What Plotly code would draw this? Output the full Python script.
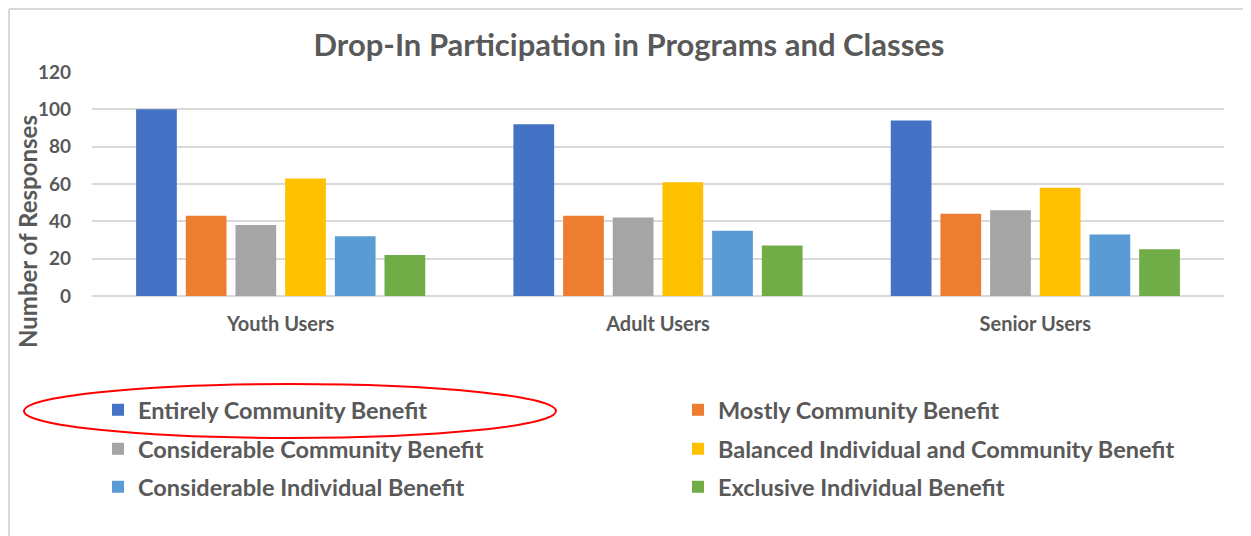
"""Drop-in participation chart, grouped bars by user type."""

import plotly.graph_objects as go


USER_GROUPS = ["Youth Users", "Adult Users", "Senior Users"]

BENEFIT_LEVELS = [
    "Entirely Community Benefit",
    "Mostly Community Benefit",
    "Considerable Community Benefit",
    "Balanced Individual and Community Benefit",
    "Considerable Individual Benefit",
    "Exclusive Individual Benefit",
]

entirely_community = [100, 92, 94]
mostly_community = [43, 43, 44]
considerable_community = [38, 42, 46]
balanced = [63, 61, 58]
considerable_individual = [32, 35, 33]
exclusive_individual = [22, 27, 25]

SERIES_VALUES = [
    entirely_community,
    mostly_community,
    considerable_community,
    balanced,
    considerable_individual,
    exclusive_individual,
]

BAR_COLORS = ["#4472C4", "#ED7D31", "#A5A5A5", "#FFC000", "#5B9BD5", "#70AD47"]

TEXT_COLOR = "#595959"
GRID_COLOR = "#D9D9D9"
FONT = "Lato"

# the page body keeps its default 8px margin, so the figure sits 8px in
PAGE_OFFSET = 8
WIDTH = 1251 - PAGE_OFFSET
HEIGHT = 536 - PAGE_OFFSET
LEFT, RIGHT, TOP, BOTTOM = 84, 27, 64, 240
PLOT_W = WIDTH - LEFT - RIGHT
PLOT_H = HEIGHT - TOP - BOTTOM

# legend grid: two columns, three rows (page pixel positions)
LEGEND_COLUMNS_PX = [98, 678]
LEGEND_ROWS_PX = [410, 449, 487]


def px_to_x(px):
    return (px - PAGE_OFFSET - LEFT) / PLOT_W


def px_to_y(py):
    return (HEIGHT - BOTTOM - (py - PAGE_OFFSET)) / PLOT_H


fig = go.Figure()

legend_layout = {}
for index, (name, values, color) in enumerate(
    zip(BENEFIT_LEVELS, SERIES_VALUES, BAR_COLORS)
):
    legend_id = "legend" if index == 0 else f"legend{index + 1}"
    fig.add_trace(
        go.Bar(
            x=USER_GROUPS,
            y=values,
            name=name,
            marker_color=color,
            marker_line_width=0,
            legend=legend_id,
            showlegend=True,
        )
    )
    legend_layout[legend_id] = dict(
        orientation="h",
        xanchor="left",
        yanchor="middle",
        x=px_to_x(LEGEND_COLUMNS_PX[index % 2]),
        y=px_to_y(LEGEND_ROWS_PX[index // 2]),
        font=dict(family=FONT, size=23.5, color=TEXT_COLOR, weight="bold"),
        bgcolor="rgba(0,0,0,0)",
        borderwidth=0,
    )

fig.update_layout(
    width=WIDTH,
    height=HEIGHT,
    showlegend=True,
    margin=dict(l=LEFT, r=RIGHT, t=TOP, b=BOTTOM, autoexpand=False),
    paper_bgcolor="white",
    plot_bgcolor="white",
    barmode="group",
    bargap=0.21,
    bargroupgap=0.18,
    font=dict(family=FONT, color=TEXT_COLOR),
    title=dict(
        text="Drop-In Participation in Programs and Classes",
        x=(629 - PAGE_OFFSET) / WIDTH,
        xanchor="center",
        y=1 - (45 - PAGE_OFFSET) / HEIGHT,
        yanchor="middle",
        font=dict(family=FONT, size=31, color=TEXT_COLOR, weight="bold"),
    ),
    xaxis=dict(
        showline=False,
        ticks="",
        ticklabelstandoff=14,
        tickfont=dict(family=FONT, size=20, color=TEXT_COLOR, weight="bold"),
    ),
    yaxis=dict(
        range=[0, 120],
        dtick=20,
        showgrid=True,
        gridcolor=GRID_COLOR,
        gridwidth=1.5,
        zeroline=True,
        zerolinecolor=GRID_COLOR,
        zerolinewidth=1.5,
        showline=False,
        ticks="",
        ticklabelstandoff=20,
        tickfont=dict(family=FONT, size=19, color=TEXT_COLOR, weight="bold"),
    ),
    annotations=[
        dict(
            text="Number of Responses",
            textangle=-90,
            xref="paper",
            yref="paper",
            x=px_to_x(27),
            y=px_to_y(232),
            xanchor="center",
            yanchor="middle",
            showarrow=False,
            font=dict(family=FONT, size=24, color=TEXT_COLOR, weight="bold"),
        )
    ],
    shapes=[
        # chart frame (top and left edges visible in the screenshot)
        dict(
            type="line", xref="paper", yref="paper",
            x0=px_to_x(9), x1=px_to_x(1251), y0=px_to_y(9), y1=px_to_y(9),
            line=dict(color=GRID_COLOR, width=2),
        ),
        dict(
            type="line", xref="paper", yref="paper",
            x0=px_to_x(9), x1=px_to_x(9), y0=px_to_y(9), y1=px_to_y(536),
            line=dict(color=GRID_COLOR, width=2),
        ),
        # red highlight round the first legend entry
        dict(
            type="circle", xref="paper", yref="paper",
            x0=px_to_x(24), x1=px_to_x(556), y0=px_to_y(384), y1=px_to_y(438),
            line=dict(color="#FF0000", width=2),
        ),
    ],
    **legend_layout,
)

fig.write_html("out.html")
